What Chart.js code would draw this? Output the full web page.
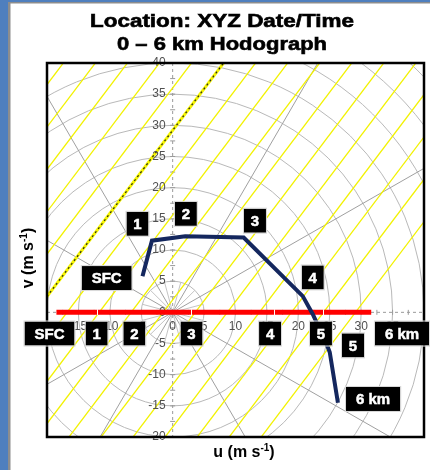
<!DOCTYPE html>
<html>
<head>
<meta charset="utf-8">
<script src="https://cdn.jsdelivr.net/npm/chart.js@4.4.3/dist/chart.umd.min.js"></script>
<style>
    html, body { margin: 0; padding: 0; background: #fff; }
    #wrap { position: relative; width: 430px; height: 470px; }
</style>
</head>
<body>
<div id="wrap"><canvas id="hodo" width="430" height="470"></canvas></div>
<script>
// hodograph trace (m/s), surface -> 6 km
const hodoU = [-4.8, -3.3, 2.0, 11.3, 20.7, 22.3, 24.7, 25.0, 26.3];
const hodoV = [5.8, 11.5, 12.2, 12.0, 2.6, -0.3, -5.6, -6.4, -14.5];

// red bar along the u axis, with thin breaks
const redU = [-18.5, 31.6];
const redV = [0, 0];
const redBreaks = [-12.0, 2.9, 16.1, 23.9];

// yellow guide lines: u where each crosses v = 0
const yellowIntercepts = [-47.4, -42.3, -37.2, -32.1, -27.0, -16.8, -11.7, -6.6, -1.5, 3.6, 8.7, 13.8, 18.9, 24.0, 29.1];
const dashedIntercept = [-21.9];
const yellowSlope = 4 / 3;

// polar grid
const ringSpeeds = [5, 10, 15, 20, 25, 30, 35, 40, 45, 50, 55];
const radialAngles = [30, 60, 120, 150, 210, 240, 300, 330];
const minorAngles = [15, 45, 75, 105, 135, 165, 195, 225, 255, 285, 315, 345];

// tick labels drawn along the axes
const vTicks = [-20, -15, -10, -5, 0, 5, 10, 15, 20, 25, 30, 35, 40];
const uTicks = [-15, -10, -5, 0, 5, 10, 15, 20, 25, 30, 35];

// height labels (black boxes), upper set near the trace and a key row along the axis
const boxLabels = ['SFC', '1', '2', '3', '4', '5', '6 km'];
const boxU = [-10.5, -5.6, 2.1, 13.1, 22.3, 28.7, 31.9];
const boxV = [5.5, 14.2, 15.8, 14.7, 5.6, -5.3, -13.9];
const rowU = [-19.6, -12.1, -6.1, 3.0, 15.5, 23.6, 36.5];
const rowV = -3.4;

const FONT = '"Liberation Sans", Arial, sans-serif';
const NAVY = '#14275e';

const lineThrough = (u0) => [-25, 45].map(v => ({x: u0 + v / yellowSlope, y: v}));

// chart.js paints higher "order" first, so the trace gets the lowest
const datasets = [];
yellowIntercepts.forEach(u0 => datasets.push({
    data: lineThrough(u0), borderColor: '#f2f200', borderWidth: 1.3, clip: 0, order: 5
}));
datasets.push({data: lineThrough(dashedIntercept[0]), borderColor: '#f5f500', borderWidth: 3, clip: 0, order: 4});
datasets.push({data: lineThrough(dashedIntercept[0]), borderColor: '#222', borderWidth: 1.2, borderDash: [2, 3], clip: 0, order: 3});
const lastGuide = datasets.length - 1;
datasets.push({
    data: redU.map((u, i) => ({x: u, y: redV[i]})),
    borderColor: '#ff0000', borderWidth: 5, order: 2
});
const redIndex = datasets.length - 1;
datasets.push({
    data: hodoU.map((u, i) => ({x: u, y: hodoV[i]})),
    borderColor: NAVY, borderWidth: 4, borderJoinStyle: 'miter', order: 1
});
datasets.forEach(d => { d.showLine = true; d.pointRadius = 0; d.borderCapStyle = 'butt'; });

// page frame, polar rings, radials and dashed axes
const gridPlugin = {
    id: 'hodoGrid',
    beforeDraw(chart) {
        const {ctx, width, height} = chart;
        ctx.save();
        ctx.fillStyle = '#fff';
        ctx.fillRect(0, 0, width, height);
        ctx.fillStyle = '#4f7fbe';
        ctx.fillRect(0, 0, 8, height);
        ctx.fillRect(0, 0, width, 2);
        ctx.fillStyle = '#8d8d8d';
        ctx.fillRect(8, 2, 2.5, height);
        ctx.fillRect(8, 2, width, 1.5);
        ctx.restore();
    },
    beforeDatasetsDraw(chart) {
        const {ctx, chartArea: a, scales: {x, y}} = chart;
        const cx = x.getPixelForValue(0), cy = y.getPixelForValue(0);
        const sx = x.getPixelForValue(1) - cx, sy = cy - y.getPixelForValue(1);
        ctx.save();
        ctx.beginPath();
        ctx.rect(a.left, a.top, a.right - a.left, a.bottom - a.top);
        ctx.clip();
        ctx.lineWidth = 1;
        ctx.strokeStyle = '#b9b9b9';
        ringSpeeds.forEach(r => {
            ctx.beginPath();
            ctx.ellipse(cx, cy, r * sx, r * sy, 0, 0, Math.PI * 2);
            ctx.stroke();
        });
        const ray = (deg, r) => {
            const t = deg * Math.PI / 180;
            ctx.beginPath();
            ctx.moveTo(cx, cy);
            ctx.lineTo(cx + Math.cos(t) * r * sx, cy - Math.sin(t) * r * sy);
            ctx.stroke();
        };
        ctx.strokeStyle = '#a0a0a0';
        radialAngles.forEach(d => ray(d, 70));
        ctx.strokeStyle = '#c4c4c4';
        minorAngles.forEach(d => ray(d, 5));
        // dashed axes with small ticks
        ctx.strokeStyle = '#9a9a9a';
        ctx.setLineDash([3, 3]);
        ctx.beginPath();
        ctx.moveTo(a.left, cy); ctx.lineTo(a.right, cy);
        ctx.moveTo(cx, a.top); ctx.lineTo(cx, a.bottom);
        ctx.stroke();
        ctx.setLineDash([]);
        ctx.beginPath();
        for (let v = -20; v <= 40; v += 2.5) {
            const py = y.getPixelForValue(v);
            ctx.moveTo(cx - 2.5, py); ctx.lineTo(cx + 2.5, py);
            const pxu = x.getPixelForValue(v);
            ctx.moveTo(pxu, cy - 2.5); ctx.lineTo(pxu, cy + 2.5);
        }
        ctx.stroke();
        ctx.restore();
    },
    afterDatasetDraw(chart, args) {
        const {ctx, scales: {x, y}} = chart;
        const cx = x.getPixelForValue(0), cy = y.getPixelForValue(0);
        if (args.index === redIndex) {
            ctx.save();
            ctx.strokeStyle = '#fff';
            ctx.lineWidth = 1;
            ctx.beginPath();
            redBreaks.forEach(u => {
                const p = Math.round(x.getPixelForValue(u)) + 0.5;
                ctx.moveTo(p, cy - 3); ctx.lineTo(p, cy + 3);
            });
            ctx.stroke();
            ctx.restore();
            return;
        }
        if (args.index !== lastGuide) return;
        ctx.save();
        ctx.fillStyle = '#505050';
        ctx.font = '12px ' + FONT;
        ctx.textBaseline = 'middle';
        ctx.textAlign = 'right';
        vTicks.forEach(v => ctx.fillText(String(v), cx - 7, y.getPixelForValue(v)));
        ctx.textAlign = 'center';
        uTicks.forEach(u => ctx.fillText(String(u), x.getPixelForValue(u), cy + 14));
        ctx.restore();
    }
};

function drawUnitTitle(ctx, base, cx, cy, rotate) {
    ctx.save();
    ctx.translate(cx, cy);
    if (rotate) ctx.rotate(-Math.PI / 2);
    const big = 'bold 16px ' + FONT, small = 'bold 10px ' + FONT;
    ctx.font = big;
    const w1 = ctx.measureText(base).width, w3 = ctx.measureText(')').width;
    ctx.font = small;
    const w2 = ctx.measureText('-1').width;
    let xx = -(w1 + w2 + w3) / 2;
    ctx.fillStyle = '#000';
    ctx.textBaseline = 'middle';
    ctx.textAlign = 'left';
    ctx.font = big; ctx.fillText(base, xx, 0); xx += w1;
    ctx.font = small; ctx.fillText('-1', xx, -5); xx += w2;
    ctx.font = big; ctx.fillText(')', xx, 0);
    ctx.restore();
}

// wide heavy title: stretch bold text to the width it has in the picture
function drawWideText(ctx, text, cx, baseY, width) {
    ctx.save();
    ctx.font = 'bold 18px ' + FONT;
    const k = width / ctx.measureText(text).width;
    ctx.translate(cx, baseY);
    ctx.scale(k, 1);
    ctx.textAlign = 'center';
    ctx.textBaseline = 'alphabetic';
    ctx.fillStyle = '#000';
    ctx.lineWidth = 0.6;
    ctx.strokeStyle = '#000';
    ctx.fillText(text, 0, 0);
    ctx.strokeText(text, 0, 0);
    ctx.restore();
}

// frame, titles and black height boxes
const overlayPlugin = {
    id: 'hodoOverlay',
    afterDraw(chart) {
        const {ctx, chartArea: a, scales: {x, y}} = chart;
        ctx.save();
        ctx.strokeStyle = '#000';
        ctx.lineWidth = 2.5;
        ctx.strokeRect(a.left, a.top, a.right - a.left, a.bottom - a.top);

        drawWideText(ctx, 'Location: XYZ Date/Time', 222, 27, 264);
        drawWideText(ctx, '0 \u2013 6 km Hodograph', 222, 50, 210);

        drawUnitTitle(ctx, 'u (m s', 244, 453, false);
        drawUnitTitle(ctx, 'v (m s', 29, 258, true);

        const box = (text, u, v) => {
            const bx = x.getPixelForValue(u), by = y.getPixelForValue(v);
            ctx.font = 'bold 15px ' + FONT;
            const w = text.length === 1 ? 22 : ctx.measureText(text).width + 20;
            const h = 24;
            ctx.fillStyle = '#000';
            ctx.fillRect(bx - w / 2, by - h / 2, w, h);
            ctx.strokeStyle = '#d8d8d8';
            ctx.lineWidth = 1;
            ctx.strokeRect(bx - w / 2 - 0.5, by - h / 2 - 0.5, w + 1, h + 1);
            ctx.fillStyle = '#fff';
            ctx.strokeStyle = '#fff';
            ctx.lineWidth = 0.5;
            ctx.textAlign = 'center';
            ctx.textBaseline = 'middle';
            ctx.fillText(text, bx, by + 1);
            ctx.strokeText(text, bx, by + 1);
        };
        boxLabels.forEach((t, i) => box(t, boxU[i], boxV[i]));
        boxLabels.forEach((t, i) => box(t, rowU[i], rowV));
        ctx.restore();
    }
};

new Chart(document.getElementById('hodo'), {
    type: 'scatter',
    data: {datasets},
    options: {
        responsive: false,
        animation: false,
        events: [],
        layout: {padding: {left: 47, right: 6, top: 63, bottom: 33}},
        scales: {
            x: {type: 'linear', min: -20, max: 40, display: false},
            y: {type: 'linear', min: -20, max: 40, display: false}
        },
        plugins: {legend: {display: false}, tooltip: {enabled: false}, title: {display: false}}
    },
    plugins: [gridPlugin, overlayPlugin]
});
</script>
</body>
</html>
